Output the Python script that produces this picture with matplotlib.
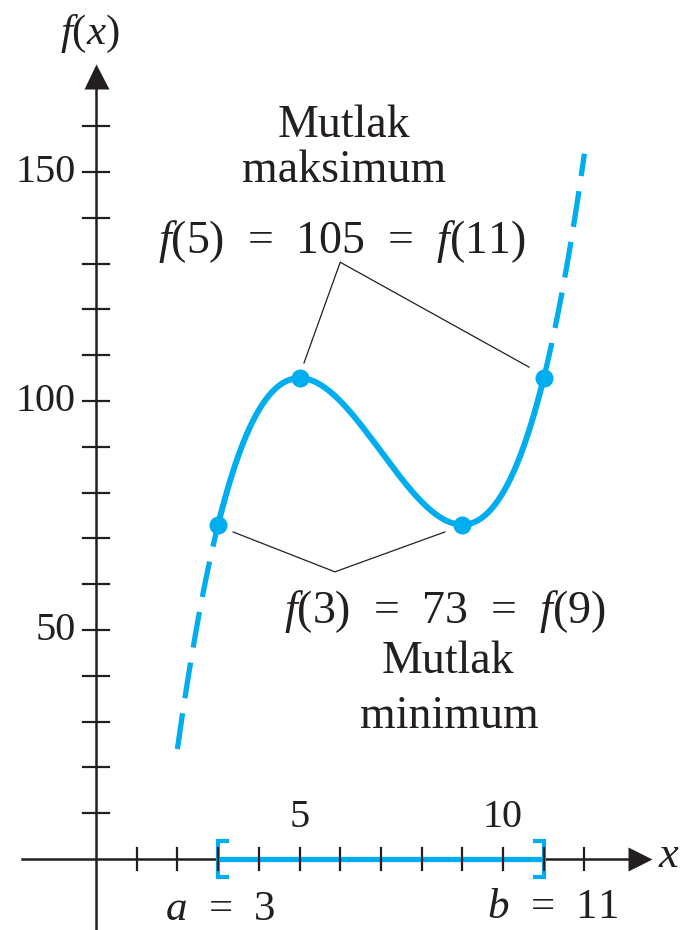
import matplotlib
matplotlib.use("Agg")
import matplotlib.pyplot as plt
import numpy as np

plt.rcParams['font.family'] = ['Liberation Serif', 'DejaVu Serif']
plt.rcParams['mathtext.fontset'] = 'custom'
plt.rcParams['mathtext.rm'] = 'Liberation Serif'
plt.rcParams['mathtext.it'] = 'Liberation Serif:italic'
plt.rcParams['lines.scale_dashes'] = False

# values stated on the chart: f(3) = 73, f(5) = 105, f(9) = 73, f(11) = 105
key_x = [3, 5, 9, 11]
key_y = [73, 105, 73, 105]
a, b = 3, 11
ext_lo, ext_hi = 2, 12

y_ticks = list(range(10, 170, 10))
y_labels = [50, 100, 150]
x_ticks = list(range(1, 13))
x_labels = [5, 10]

BLUE = '#00AEEF'
INK = '#231F20'
FS_TICK = 29
FS_NOTE = 33
SP = '\u2002'   # en space around the equals signs

# cubic through the four labelled points
coeffs = np.polyfit(key_x, key_y, 3)
f = np.poly1d(coeffs)

fig = plt.figure(figsize=(6.89, 9.30), dpi=100)
ax = fig.add_axes([0, 0, 1, 1])
px_x, px_y = 40.7, 4.58          # pixels per unit
ax.set_xlim(-96 / px_x, (689 - 96) / px_x)
ax.set_ylim(-71 / px_y, 859 / px_y)
ax.axis('off')

# axes with arrow heads
ax.plot([-1.82, 13.37], [0, 0], color=INK, lw=1.8, zorder=2)
ax.plot([0, 0], [-16, 170.9], color=INK, lw=1.8, zorder=2)
ax.plot(13.37, 0, marker='>', ms=17, color=INK, mec='none', zorder=3)
ax.plot(0, 170.9, marker='^', ms=18, color=INK, mec='none', zorder=3)

# interval [a, b] on the x-axis
ax.plot([a, b], [0, 0], color=BLUE, lw=3.8, solid_capstyle='butt', zorder=3)
ax.plot([a + 0.22, a, a, a + 0.22], [4, 4, -4, -4], color=BLUE, lw=3.0,
        solid_joinstyle='miter', zorder=3)
ax.plot([b - 0.22, b, b, b - 0.22], [4, 4, -4, -4], color=BLUE, lw=3.0,
        solid_joinstyle='miter', zorder=3)

# tick marks
for t in x_ticks:
    ax.plot([t, t], [-2.4, 2.4], color=INK, lw=1.6, zorder=4)
for t in y_ticks:
    ax.plot([-0.31, 0.31], [t, t], color=INK, lw=1.6, zorder=4)

for t in y_labels:
    ax.text(-0.5, t, str(t), ha='right', va='center', fontsize=FS_TICK, color=INK)
for t in x_labels:
    ax.text(t, 6.9, str(t), ha='center', va='baseline', fontsize=FS_TICK, color=INK)

ax.text(3.05, -13.3, r'$a$' + SP + '=' + SP + '3', ha='center', va='baseline',
        fontsize=31, color=INK)
ax.text(11.23, -12.9, r'$b$' + SP + '=' + SP + '11', ha='center', va='baseline',
        fontsize=31, color=INK)
ax.text(14.08, 0.6, r'$x$', ha='center', va='center', fontsize=32, color=INK)
ax.text(-0.15, 177.9, r'$f$($x$)', ha='center', va='baseline', fontsize=31, color=INK)

# the function: solid on [a, b], dashed beyond it
xs = np.linspace(a, b, 400)
ax.plot(xs, f(xs), color=BLUE, lw=4.3, solid_capstyle='butt', zorder=5)
lo = np.linspace(ext_lo, a, 100)
ax.plot(lo, f(lo), color=BLUE, lw=3.8, dashes=(26, 11), dash_capstyle='butt', zorder=5)
hi = np.linspace(b, ext_hi, 100)
ax.plot(hi, f(hi), color=BLUE, lw=3.8, dashes=(26, 11), dash_capstyle='butt', zorder=5)
ax.plot(key_x, key_y, 'o', ms=13, color=BLUE, mec='none', zorder=6)

# callouts
ax.plot([5.11, 6.0, 10.64], [108.3, 130.3, 107.4], color=INK, lw=0.9, zorder=4)
ax.plot([3.37, 5.87, 8.57], [71.4, 62.7, 71.4], color=INK, lw=0.9, zorder=4)

max_eq = r'$f$(5)' + SP + '=' + SP + '105' + SP + '=' + SP + r'$f$(11)'
min_eq = r'$f$(3)' + SP + '=' + SP + '73' + SP + '=' + SP + r'$f$(9)'

ax.text(6.09, 157.6, 'Mutlak', ha='center', va='baseline', fontsize=FS_NOTE, color=INK)
ax.text(6.09, 147.8, 'maksimum', ha='center', va='baseline', fontsize=FS_NOTE, color=INK)
ax.text(6.05, 132.3, max_eq, ha='center', va='baseline', fontsize=FS_NOTE, color=INK)

ax.text(8.58, 51.5, min_eq, ha='center', va='baseline', fontsize=FS_NOTE, color=INK)
ax.text(8.64, 40.6, 'Mutlak', ha='center', va='baseline', fontsize=FS_NOTE, color=INK)
ax.text(8.68, 28.6, 'minimum', ha='center', va='baseline', fontsize=FS_NOTE, color=INK)

fig.savefig('out.png', dpi=100)
